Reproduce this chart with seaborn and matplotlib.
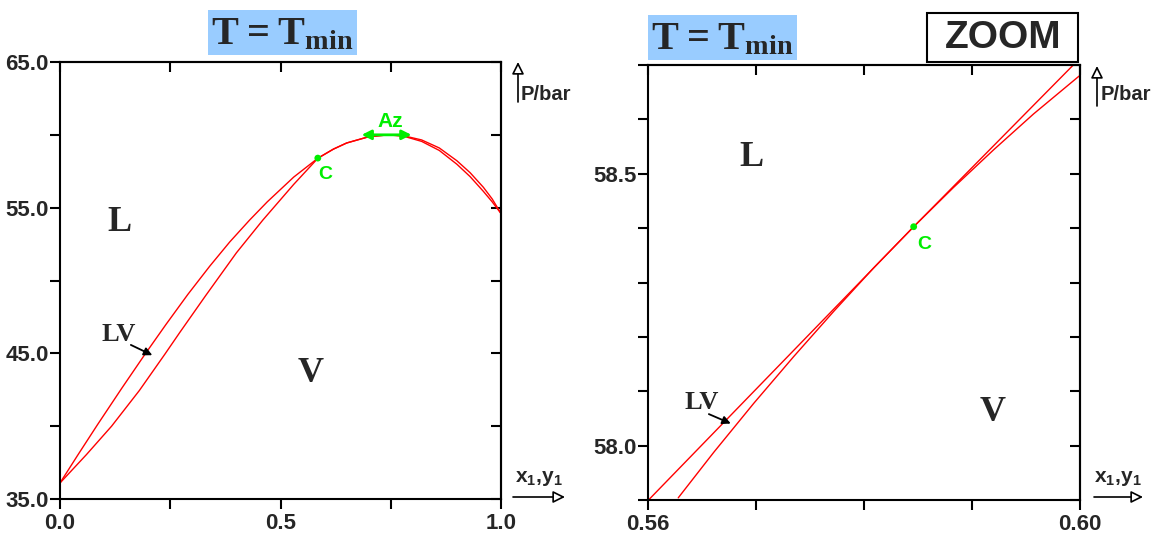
import matplotlib
matplotlib.use('Agg')
import matplotlib.pyplot as plt
from matplotlib.patches import Rectangle
import seaborn as sns

# left panel: P-x,y loop at T = Tmin (x1 / P in bar)
liq_x = [0.0, 0.04, 0.085, 0.14, 0.193, 0.24, 0.29, 0.34, 0.385, 0.43, 0.47, 0.53, 0.585,
         0.62, 0.65, 0.70, 0.745, 0.78, 0.82, 0.86, 0.90, 0.93, 0.96, 0.98, 1.0]
liq_p = [36.1, 38.0, 40.1, 42.6, 44.95, 46.97, 49.05, 51.0, 52.65, 54.15, 55.4, 57.1, 58.4,
         59.02, 59.44, 59.87, 60.0, 59.93, 59.65, 59.1, 58.22, 57.4, 56.4, 55.6, 54.6]
vap_x = [0.0, 0.06, 0.117, 0.18, 0.238, 0.272, 0.33, 0.40, 0.46, 0.50, 0.53, 0.56, 0.585,
         0.62, 0.65, 0.70, 0.745, 0.78, 0.82, 0.86, 0.90, 0.93, 0.96, 0.98, 1.0]
vap_p = [36.1, 38.05, 40.0, 42.45, 44.95, 46.45, 48.95, 51.9, 54.15, 55.55, 56.6, 57.58, 58.4,
         59.02, 59.44, 59.87, 60.0, 59.9, 59.55, 58.93, 57.98, 57.13, 56.12, 55.4, 54.6]

# right panel: zoom around the critical point
zliq_x = [0.56, 0.5846, 0.5994]
zliq_p = [57.899, 58.4026, 58.7004]
zvap_x = [0.5628, 0.5661, 0.5698, 0.5735, 0.5772, 0.5809, 0.5846, 0.5883, 0.5920, 0.5957, 0.60]
zvap_p = [57.904, 57.988, 58.078, 58.164, 58.247, 58.327, 58.4026, 58.475, 58.544, 58.610, 58.681]

crit_x, crit_p = 0.5846, 58.4026
az_x = [0.684, 0.797]
az_p = 60.0

left_xticks = [0.0, 0.5, 1.0]
left_xminor = [0.25, 0.75]
left_yticks = [35.0, 45.0, 55.0, 65.0]
left_yminor = [40.0, 50.0, 60.0]
right_xticks = [0.56, 0.60]
right_xminor = [0.57, 0.58, 0.59]
right_yticks = [58.0, 58.5]
right_yminor = [57.9, 58.1, 58.2, 58.3, 58.4, 58.6, 58.7]

sns.set_theme(style='white')
plt.rcParams['font.family'] = ['Liberation Sans', 'DejaVu Sans']
plt.rcParams['font.weight'] = 'bold'
plt.rcParams['mathtext.fontset'] = 'custom'
plt.rcParams['mathtext.bf'] = 'Liberation Serif:bold'
plt.rcParams['mathtext.rm'] = 'Liberation Serif:bold'
plt.rcParams['mathtext.sf'] = 'Liberation Sans:bold'

fig = plt.figure(figsize=(11.62, 5.39), dpi=100)
W, H = 1162, 539
ax1 = fig.add_axes([60 / W, 40 / H, 441 / W, 437 / H])
ax2 = fig.add_axes([648 / W, 39 / H, 432 / W, 435 / H])


def frame(ax, xlim, ylim, xt, xm, yt, ym, xf, yf):
    ax.set_xlim(xlim)
    ax.set_ylim(ylim)
    ax.set_xticks(xt)
    ax.set_xticks(xm, minor=True)
    ax.set_yticks(yt)
    ax.set_yticks(ym, minor=True)
    ax.set_xticklabels([xf.format(v) for v in xt])
    ax.set_yticklabels([yf.format(v) for v in yt])
    ax.set_xlabel('')
    ax.set_ylabel('')
    ax.tick_params(which='both', direction='out', length=7, width=1.5, color='black',
                   labelsize=16, bottom=True, left=True)
    ax.tick_params(axis='x', pad=3)
    ax.tick_params(axis='y', pad=1)
    for s in ax.spines.values():
        s.set_linewidth(1.5)
        s.set_color('black')
    top = ax.secondary_xaxis('top')
    top.set_xticks(xt + xm)
    top.tick_params(direction='in', length=7, width=1.5, labeltop=False, color='black')
    top.spines['top'].set_linewidth(1.5)
    right = ax.secondary_yaxis('right')
    right.set_yticks(yt + ym)
    right.tick_params(direction='in', length=7, width=1.5, labelright=False, color='black')
    right.spines['right'].set_linewidth(1.5)


serif = ['Liberation Serif', 'DejaVu Serif']
green = '#00EE00'

# left panel
sns.lineplot(x=liq_x, y=liq_p, sort=False, color='#FF0000', lw=1.0, ax=ax1)
sns.lineplot(x=vap_x, y=vap_p, sort=False, color='#FF0000', lw=1.0, ax=ax1)
sns.scatterplot(x=[crit_x], y=[crit_p], color=green, s=24, edgecolor='none', ax=ax1, zorder=5)
frame(ax1, (0, 1), (35, 65), left_xticks, left_xminor, left_yticks, left_yminor, '{:.1f}', '{:.1f}')

ax1.text(0.134, 54.0, 'L', family=serif, fontsize=26, ha='center', va='center')
ax1.text(0.569, 43.6, 'V', family=serif, fontsize=26, ha='center', va='center')
ax1.text(0.134, 46.3, 'LV', family=serif, fontsize=19, ha='center', va='center')
ax1.annotate('', xy=(0.215, 44.79), xytext=(0.155, 45.66),
             arrowprops=dict(arrowstyle='-|>', color='black', lw=1.3, mutation_scale=12))
ax1.text(0.601, 57.3, 'C', color=green, fontsize=14, ha='center', va='center')
ax1.annotate('', xy=(az_x[0], az_p), xytext=(az_x[1], az_p),
             arrowprops=dict(arrowstyle='<|-|>', color=green, lw=2,
                             mutation_scale=14, shrinkA=0, shrinkB=0))
ax1.text(0.748, 60.9, 'Az', color=green, fontsize=15, ha='center', va='center')

# right panel
sns.lineplot(x=zliq_x, y=zliq_p, sort=False, color='#FF0000', lw=1.0, ax=ax2)
sns.lineplot(x=zvap_x, y=zvap_p, sort=False, color='#FF0000', lw=1.0, ax=ax2)
sns.scatterplot(x=[crit_x], y=[crit_p], color=green, s=24, edgecolor='none', ax=ax2, zorder=5)
frame(ax2, (0.56, 0.60), (57.9, 58.7), right_xticks, right_xminor, right_yticks, right_yminor,
      '{:.2f}', '{:.1f}')
ax2.text(0.5696, 58.53, 'L', family=serif, fontsize=26, ha='center', va='center')
ax2.text(0.5919, 58.06, 'V', family=serif, fontsize=26, ha='center', va='center')
ax2.text(0.565, 58.079, 'LV', family=serif, fontsize=19, ha='center', va='center')
ax2.annotate('', xy=(0.5679, 58.0386), xytext=(0.5654, 58.060),
             arrowprops=dict(arrowstyle='-|>', color='black', lw=1.3, mutation_scale=12))
ax2.text(0.5856, 58.37, 'C', color=green, fontsize=14, ha='center', va='center')


def box(x0, y0, x1, y1, fc, ec, lw=0):
    fig.add_artist(Rectangle((x0 / W, 1 - y1 / H), (x1 - x0) / W, (y1 - y0) / H,
                             transform=fig.transFigure, fc=fc, ec=ec, lw=lw))


# titles
title = r'$\mathbf{T = T_{min}}$'
box(208, 10, 357, 55, '#99CCFF', 'none')
fig.text(282 / W, 1 - 33 / H, title, fontsize=29, ha='center', va='center')
box(648, 15, 797, 60, '#99CCFF', 'none')
fig.text(722 / W, 1 - 38 / H, title, fontsize=29, ha='center', va='center')
box(927, 13, 1078, 62, 'white', 'black', 1.5)
fig.text(1003 / W, 1 - 38 / H, 'ZOOM', fontsize=28, ha='center', va='center')

# axis arrows and names
open_head = dict(arrowstyle='-|>', fc='white', ec='black', lw=1.2, mutation_scale=18,
                 shrinkA=0, shrinkB=0)
for px, ybot, ytop, plab, xl, xr, xy_y, xlab in [(518, 102, 62, 521, 513, 565, 497, 539),
                                                   (1097, 106, 66, 1101, 1094, 1143, 497, 1118)]:
    fig.add_artist(plt.Annotation('', xy=(px, H - ytop), xytext=(px, H - ybot),
                                  xycoords='figure pixels', arrowprops=open_head))
    fig.text(plab / W, 1 - 95 / H, 'P/bar', fontsize=14.5, ha='left', va='center')
    fig.add_artist(plt.Annotation('', xy=(xr, H - xy_y), xytext=(xl, H - xy_y),
                                  xycoords='figure pixels', arrowprops=open_head))
    fig.text(xlab / W, 1 - 479 / H, r'$\mathsf{x_1{,}y_1}$', fontsize=15, ha='center', va='center')

fig.savefig('out.png', dpi=100)
